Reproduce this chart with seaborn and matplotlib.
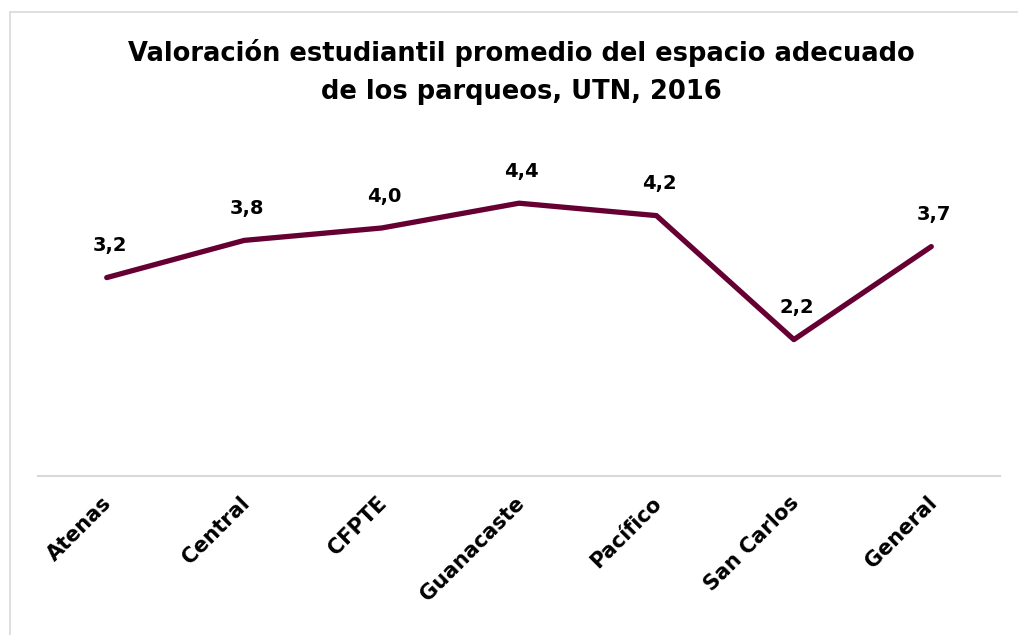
import pandas as pd
import seaborn as sns
import matplotlib.pyplot as plt
import matplotlib.transforms as mtransforms
from matplotlib.patches import Rectangle

# data
sedes = ['Atenas', 'Central', 'CFPTE', 'Guanacaste', 'Pacífico', 'San Carlos', 'General']
valoracion = [3.2, 3.8, 4.0, 4.4, 4.2, 2.2, 3.7]

df = pd.DataFrame({'sede': sedes, 'valor': valoracion})

sns.set_theme(style='white')
plt.rcParams['font.family'] = ['DejaVu Sans']

fig = plt.figure(figsize=(10.18, 6.35), dpi=100)
ax = fig.add_axes([38/1018, 1 - 476/635, 962/1018, 310/635])

sns.lineplot(data=df, x='sede', y='valor', sort=False, color='#660033', linewidth=3.8, ax=ax)

# data labels
for i, v in enumerate(valoracion):
    ax.annotate('{:.1f}'.format(v).replace('.', ','), (i, v), xytext=(2, 16), textcoords='offset points',
                ha='center', va='bottom', fontsize=14, fontweight='bold', color='black')

ax.set_xlim(-0.5, len(sedes) - 0.5)
ax.set_ylim(0, 5)
ax.set_xlabel('')
ax.set_ylabel('')
ax.set_yticks([])
ax.tick_params(axis='x', length=0, pad=12)
shift = mtransforms.ScaledTranslation(-5/100, 0, fig.dpi_scale_trans)
for lab in ax.get_xticklabels():
    lab.set_rotation(45)
    lab.set_ha('right')
    lab.set_rotation_mode('anchor')
    lab.set_fontsize(15)
    lab.set_fontweight('bold')
    lab.set_color('black')
    lab.set_transform(lab.get_transform() + shift)

for s in ['top', 'right', 'left']:
    ax.spines[s].set_visible(False)
ax.spines['bottom'].set_color('#d9d9d9')
ax.spines['bottom'].set_linewidth(1.5)

# title
fig.text(0.512, 1 - 72/635, 'Valoración estudiantil promedio del espacio adecuado\nde los parqueos, UTN, 2016',
         ha='center', va='center', fontsize=18.5, fontweight='bold', linespacing=1.6, color='black')

# chart border
fig.patches.append(Rectangle((10/1018, -0.1), 1.2, 1 - 12/635 + 0.1, transform=fig.transFigure,
                             fill=False, edgecolor='#d9d9d9', linewidth=1.2))

fig.savefig('out.png', dpi=100)
